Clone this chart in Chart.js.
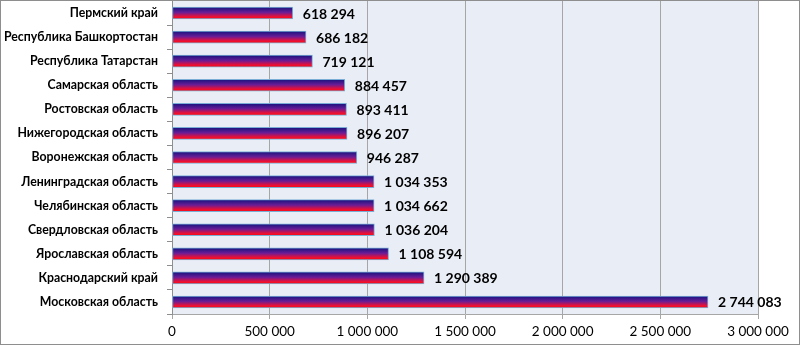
<!DOCTYPE html>
<html>
<head>
<meta charset="utf-8">
<script src="https://cdn.jsdelivr.net/npm/chart.js@4"></script>
<style>
  html, body { margin: 0; padding: 0; background: #ffffff; }
  #wrap { width: 800px; height: 345px; position: relative; }
  canvas { display: block; }
</style>
</head>
<body>
<div id="wrap"><canvas id="c" width="800" height="345"></canvas></div>
<script>
// Regions, top to bottom
const regions = [
  'Пермский край',
  'Республика Башкортостан',
  'Республика Татарстан',
  'Самарская область',
  'Ростовская область',
  'Нижегородская область',
  'Воронежская область',
  'Ленинградская область',
  'Челябинская область',
  'Свердловская область',
  'Ярославская область',
  'Краснодарский край',
  'Московская область'
];
const values = [
  618294, 686182, 719121, 884457, 893411, 896207, 946287,
  1034353, 1034662, 1036204, 1108594, 1290389, 2744083
];
const axisMax = 3000000;
const axisStep = 500000;

// Thousands grouped with spaces: 1 034 353
function fmt(n) {
  return String(Math.round(n)).replace(/\B(?=(\d{3})+(?!\d))/g, ' ');
}

const BAR_THICK = 12;

// Vertical navy → purple → red fill for a bar centred at yc
function makeGradient(ctx, yc, h) {
  const g = ctx.createLinearGradient(0, yc - h / 2, 0, yc + h / 2);
  g.addColorStop(0, '#14147e');
  g.addColorStop(0.45, '#6a1c96');
  g.addColorStop(0.8, '#e81038');
  g.addColorStop(1, '#ff0a0a');
  return g;
}

// Scriptable fill so each bar keeps its own options object
function barFill(c) {
  const chart = c.chart;
  const y = chart.scales && chart.scales.y;
  if (!y || c.dataIndex === undefined) return '#6a1c96';
  const yc = y.getPixelForValue(c.dataIndex);
  if (!isFinite(yc)) return '#6a1c96';
  return makeGradient(chart.ctx, yc, BAR_THICK);
}

// Light plot-area fill, per-bar gradients and the outer frame
const framePlugin = {
  id: 'frame',
  beforeDraw(chart) {
    const { ctx, chartArea: a } = chart;
    ctx.save();
    ctx.fillStyle = '#e9edf5';
    ctx.fillRect(a.left, a.top, a.right - a.left, a.bottom - a.top);
    ctx.restore();
  },
  beforeDatasetsDraw(chart) {
    const meta = chart.getDatasetMeta(0);
    meta.data.forEach(el => {
      if (isFinite(el.y) && isFinite(el.height)) {
        const opts = Object.assign({}, el.options);
        opts.backgroundColor = makeGradient(chart.ctx, el.y, el.height);
        el.options = opts;
      }
    });
  },
  afterDraw(chart) {
    const ctx = chart.ctx;
    ctx.save();
    ctx.strokeStyle = '#8e8e8e';
    ctx.lineWidth = 1;
    ctx.strokeRect(0.5, 0.5, chart.width - 1, chart.height - 1);
    ctx.restore();
  }
};

// Value text at the end of each bar
const valueLabels = {
  id: 'valueLabels',
  afterDatasetsDraw(chart) {
    const ctx = chart.ctx;
    const meta = chart.getDatasetMeta(0);
    ctx.save();
    ctx.font = 'bold 14px Lato, "Open Sans", sans-serif';
    ctx.fillStyle = '#000000';
    ctx.textAlign = 'left';
    ctx.textBaseline = 'middle';
    meta.data.forEach((el, i) => {
      ctx.fillText(fmt(values[i]), el.x + 10, el.y + 1);
    });
    ctx.restore();
  }
};

new Chart(document.getElementById('c'), {
  type: 'bar',
  data: {
    labels: regions,
    datasets: [{
      data: values,
      backgroundColor: barFill,
      borderColor: '#7aaed6',
      borderWidth: 1,
      borderSkipped: false,
      barThickness: BAR_THICK
    }]
  },
  options: {
    indexAxis: 'y',
    responsive: false,
    animation: false,
    devicePixelRatio: 1,
    layout: { autoPadding: false, padding: { top: 1, right: 42, bottom: 0, left: 0 } },
    plugins: {
      legend: { display: false },
      tooltip: { enabled: false }
    },
    scales: {
      x: {
        min: 0,
        max: axisMax,
        afterFit(s) { s.height = 31; s.paddingLeft = 0; s.paddingRight = 0; },
        ticks: {
          stepSize: axisStep,
          color: '#000000',
          padding: 5,
          font: { family: 'Lato, "Open Sans", sans-serif', size: 13.5 },
          callback: v => fmt(v),
          maxRotation: 0
        },
        grid: {
          color: '#a6a6a6',
          lineWidth: 1,
          drawTicks: true,
          tickLength: 5
        },
        border: { display: true, color: '#a6a6a6' }
      },
      y: {
        afterFit(s) { s.width = 172; s.paddingTop = 0; s.paddingBottom = 0; },
        ticks: {
          color: '#000000',
          padding: 9,
          font: { family: 'Lato, "Open Sans", sans-serif', size: 12.3, weight: 'bold' }
        },
        grid: {
          offset: true,
          drawOnChartArea: false,
          drawTicks: true,
          tickLength: 5,
          color: '#8e8e8e'
        },
        border: { display: true, color: '#8e8e8e' }
      }
    }
  },
  plugins: [framePlugin, valueLabels]
});
</script>
</body>
</html>
